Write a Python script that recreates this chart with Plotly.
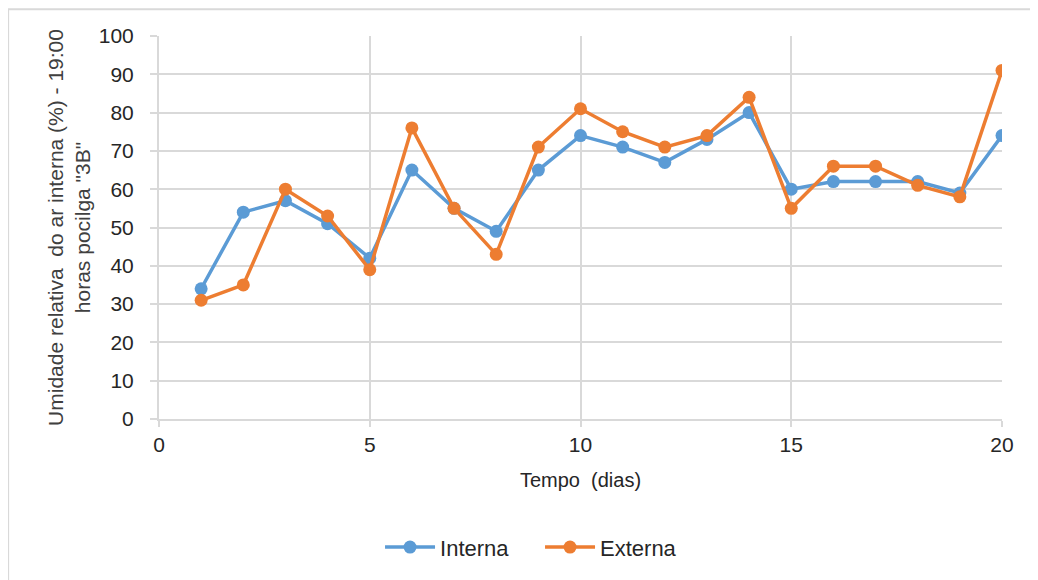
import plotly.graph_objects as go

dias = list(range(1, 21))
interna = [34, 54, 57, 51, 42, 65, 55, 49, 65, 74, 71, 67, 73, 80, 60, 62, 62, 62, 59, 74]
externa = [31, 35, 60, 53, 39, 76, 55, 43, 71, 81, 75, 71, 74, 84, 55, 66, 66, 61, 58, 91]

BLUE = "#5B9BD5"
ORANGE = "#ED7D31"
FONT = "Liberation Sans, Arial, sans-serif"

fig = go.Figure()
fig.add_trace(go.Scatter(x=dias, y=interna, name="Interna", mode="lines+markers",
                         line=dict(color=BLUE, width=3.5), marker=dict(size=13, color=BLUE)))
fig.add_trace(go.Scatter(x=dias, y=externa, name="Externa", mode="lines+markers",
                         line=dict(color=ORANGE, width=3.5), marker=dict(size=13, color=ORANGE)))

fig.update_layout(
    width=1038, height=580,
    margin=dict(l=151, r=44, t=28, b=169),
    paper_bgcolor="white", plot_bgcolor="white",
    font=dict(family=FONT, color="#404040"),
    legend=dict(orientation="h", x=0.452, xanchor="center", y=-0.335, yanchor="middle",
                font=dict(size=22, color="#262626"), itemwidth=50,
                entrywidth=95, entrywidthmode="pixels"),
    xaxis=dict(range=[0, 20], tickvals=[0, 5, 10, 15, 20], showgrid=True,
               gridcolor="#D9D9D9", gridwidth=2, zeroline=False,
               showline=True, linecolor="#D9D9D9", linewidth=2,
               ticks="outside", ticklen=6, tickcolor="#D9D9D9", tickwidth=2,
               tickfont=dict(size=21, color="#262626"),
               title=dict(text="Tempo  (dias)", font=dict(size=20, color="#262626"), standoff=18)),
    yaxis=dict(range=[0, 100], dtick=10, showgrid=True,
               gridcolor="#D9D9D9", gridwidth=2, zeroline=False,
               showline=True, linecolor="#D9D9D9", linewidth=2,
               ticks="outside", ticklen=7, tickcolor="#D9D9D9", tickwidth=2,
               ticklabelstandoff=12,
               tickfont=dict(size=21, color="#262626"),
               title=dict(text="Umidade relativa  do ar interna (%) - 19:00<br>horas pocilga \"3B\"",
                          font=dict(size=21, color="#404040"), standoff=2)),
    showlegend=True,
)

fig.add_shape(type="rect", xref="paper", yref="paper",
              x0=-0.179, x1=1.2, y0=-0.7, y1=1.07,
              line=dict(color="#D9D9D9", width=2), fillcolor="rgba(0,0,0,0)", layer="below")

fig.write_html("out.html")
